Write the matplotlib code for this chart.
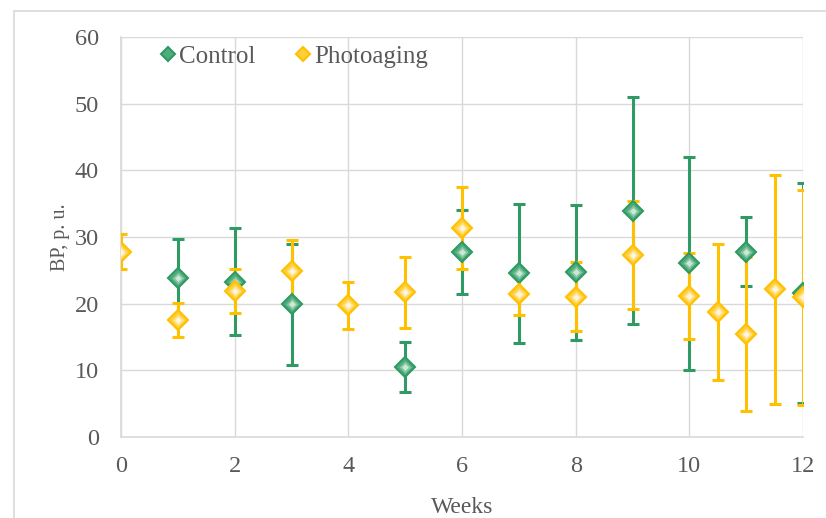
import numpy as np
import matplotlib
matplotlib.use('Agg')
import matplotlib.pyplot as plt
import matplotlib.patches as patches

plt.rcParams['font.family'] = ['Liberation Serif', 'DejaVu Serif']

# Control
ctrl_wk = [1, 2, 3, 5, 6, 7, 8, 9, 10, 11, 12]
ctrl_bp = [23.8, 23.3, 19.9, 10.45, 27.7, 24.55, 24.7, 33.95, 26.05, 27.8, 21.55]
ctrl_err = [5.9, 8.0, 9.1, 3.75, 6.3, 10.4, 10.1, 17.0, 16.0, 5.15, 16.5]

# Photoaging
ph_wk = [0, 1, 2, 3, 4, 5, 6, 7, 8, 9, 10, 10.5, 11, 11.5, 12]
ph_bp = [27.8, 17.55, 21.9, 24.95, 19.75, 21.7, 31.35, 21.4, 21.05, 27.25, 21.15, 18.7, 15.45, 22.15, 20.95]
ph_err = [2.6, 2.55, 3.3, 4.6, 3.5, 5.3, 6.1, 3.1, 5.2, 8.1, 6.4, 10.2, 11.5, 17.2, 16.1]

green = '#2F9A63'
green_face = '#4FAD7B'
yellow = '#FFC000'
yellow_face = '#FFCF3A'
grid_c = '#D9D9D9'
text_c = '#595959'

fig = plt.figure(figsize=(8.26, 5.18), dpi=100)
ax = fig.add_axes([121/826, 81/518, 682/826, 400/518])

# outer chart frame (cut off on right/bottom)
fig.patches.append(patches.Rectangle((14/826, -0.05), 1.1, 1.05 - 11/518,
                                     transform=fig.transFigure, fill=False,
                                     edgecolor=grid_c, linewidth=1.2))

# error bars first
ax.errorbar(ctrl_wk, ctrl_bp, yerr=ctrl_err, fmt='none', ecolor=green,
            elinewidth=2.2, capsize=4, capthick=2.2, zorder=3)
ax.errorbar(ph_wk, ph_bp, yerr=ph_err, fmt='none', ecolor=yellow,
            elinewidth=2.2, capsize=4, capthick=2.2, zorder=3)


def diamonds(x, y, face, edge, inner, ms, z):
    # fake radial gradient with a few stacked diamonds
    ax.plot(x, y, 'D', ms=ms, mfc=face, mec=edge, mew=1.5, zorder=z)
    ax.plot(x, y, 'D', ms=ms * 0.6, mfc=inner[0], mec='none', zorder=z)
    ax.plot(x, y, 'D', ms=ms * 0.35, mfc=inner[1], mec='none', zorder=z)


diamonds(ctrl_wk, ctrl_bp, green_face, green, ['#86C6A2', '#CDE8D8'], 10, 4)
diamonds(ph_wk, ph_bp, yellow_face, yellow, ['#FFE089', '#FFF5D8'], 10, 5)

ax.set_xlim(0, 12)
ax.set_ylim(0, 60)
ax.set_xticks(np.arange(0, 13, 2))
ax.set_yticks(np.arange(0, 61, 10))
ax.grid(True, color=grid_c, linewidth=1)
ax.set_axisbelow(True)
ax.tick_params(length=0, labelsize=17.5, labelcolor=text_c, pad=16)
ax.tick_params(axis='x', pad=14)
for s in ['top', 'right']:
    ax.spines[s].set_visible(False)
for s in ['left', 'bottom']:
    ax.spines[s].set_color(grid_c)
    ax.spines[s].set_linewidth(1.2)

ax.set_xlabel('Weeks', fontsize=17, color=text_c)
ax.set_ylabel('BP, p. u.', fontsize=14.5, color=text_c)
ax.xaxis.set_label_coords(0.5, -0.15)
ax.yaxis.set_label_coords(-0.075, 0.5)

# legend
h1, = ax.plot([], [], 'D', ms=7, mfc=green_face, mec=green, mew=1.5)
h2, = ax.plot([], [], 'D', ms=7, mfc=yellow_face, mec=yellow, mew=1.5)
leg = ax.legend([h1, h2], ['Control', 'Photoaging'], ncol=2, frameon=False,
                loc='upper left', bbox_to_anchor=(0.025, 1.035), fontsize=18,
                handlelength=0.6, handletextpad=0.15, columnspacing=1.6)
for t in leg.get_texts():
    t.set_color(text_c)

fig.savefig('out.png', dpi=100)
